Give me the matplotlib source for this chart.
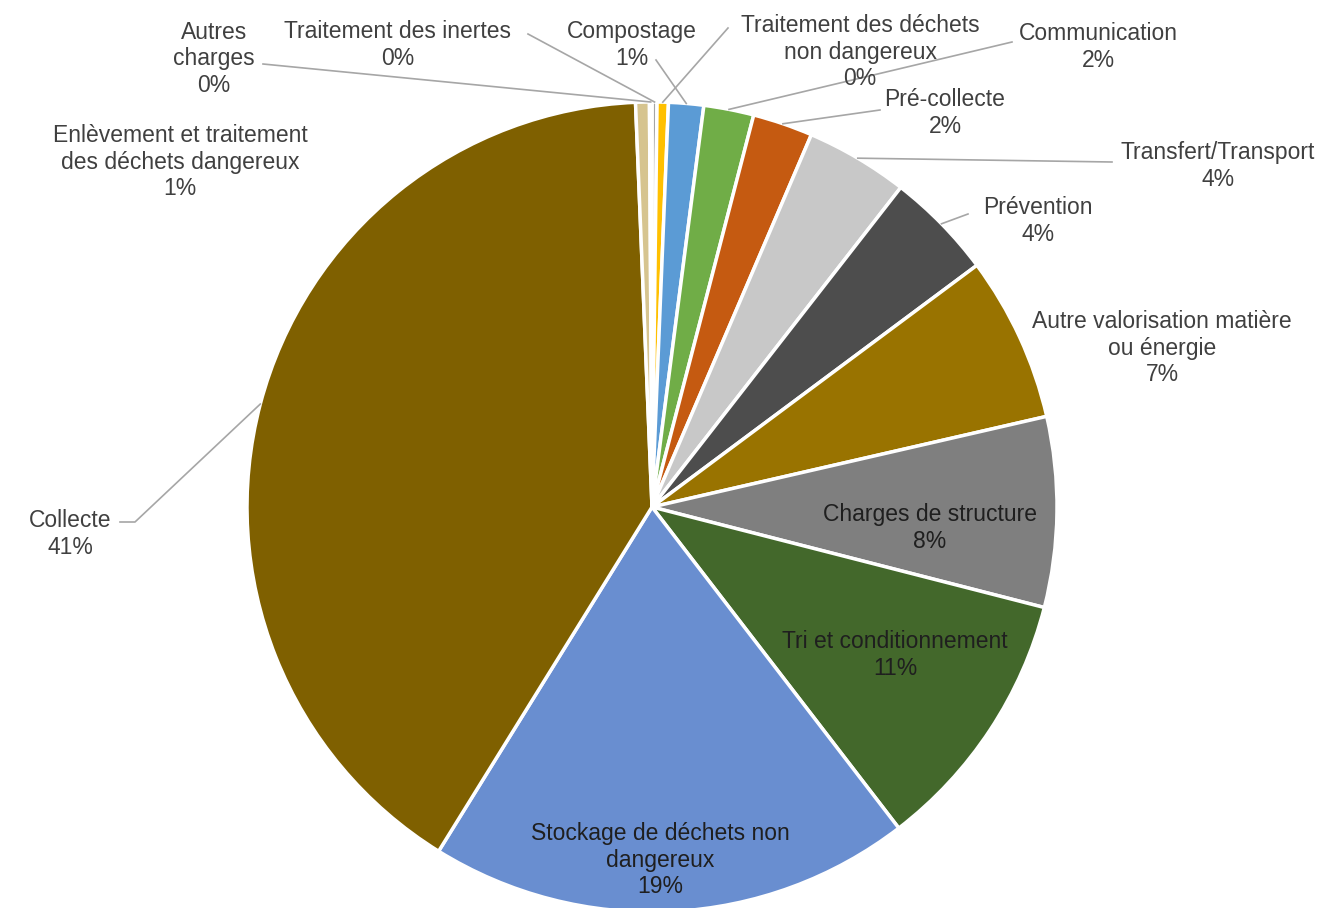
import matplotlib
matplotlib.use("Agg")
import matplotlib.pyplot as plt
import numpy as np

plt.rcParams['font.family'] = ['Liberation Sans', 'DejaVu Sans']

# données (sens horaire à partir du haut)
categories = [
    "Traitement des inertes",
    "Traitement des déchets\nnon dangereux",
    "Compostage",
    "Communication",
    "Pré-collecte",
    "Transfert/Transport",
    "Prévention",
    "Autre valorisation matière\nou énergie",
    "Charges de structure",
    "Tri et conditionnement",
    "Stockage de déchets non\ndangereux",
    "Collecte",
    "Enlèvement et traitement\ndes déchets dangereux",
    "Autres\ncharges",
]
values = [0.2, 0.45, 1.4, 2.0, 2.4, 4.1, 4.3, 6.6, 7.6, 10.6, 19.3, 40.6, 0.55, 0.1]
colors = ["#A5A5A5", "#FFC000", "#5B9BD5", "#70AD47", "#C55A11", "#C8C8C8",
          "#4D4D4D", "#997300", "#7F7F7F", "#43682B", "#698ED0", "#7F6000",
          "#D6C48F", "#E3E3E3"]

W, H = 1326, 908
fig = plt.figure(figsize=(W / 100, H / 100), dpi=100)
ax = fig.add_axes([0, 0, 1, 1])

cx, cy, r = 652, H - 507, 405
wedges, _ = ax.pie(values, colors=colors, startangle=90, counterclock=False,
                   center=(cx, cy), radius=r, frame=True,
                   wedgeprops=dict(edgecolor='white', linewidth=2.5))
ax.set_xlim(0, W)
ax.set_ylim(0, H)
ax.set_aspect('equal')
ax.axis('off')

total = sum(values)
pcts = [int(v / total * 100 + 0.5) for v in values]

# position des étiquettes (pixels, depuis le haut) et départ du trait de rappel
label_pos = {
    "Traitement des inertes": ((398, 45), (528, 34)),
    "Traitement des déchets\nnon dangereux": ((860, 52), (728, 28)),
    "Compostage": ((632, 45), (656, 60)),
    "Communication": ((1098, 47), (1012, 42)),
    "Pré-collecte": ((945, 113), (880, 110)),
    "Transfert/Transport": ((1218, 166), (1112, 162)),
    "Prévention": ((1038, 221), (968, 214)),
    "Autre valorisation matière\nou énergie": ((1162, 348), None),
    "Charges de structure": ((930, 528), None),
    "Tri et conditionnement": ((895, 655), None),
    "Stockage de déchets non\ndangereux": ((660, 860), None),
    "Collecte": ((70, 534), (120, 522)),
    "Enlèvement et traitement\ndes déchets dangereux": ((180, 162), None),
    "Autres\ncharges": ((214, 59), (263, 64)),
}
inside = ["Charges de structure", "Tri et conditionnement",
          "Stockage de déchets non\ndangereux"]

for w, name, p in zip(wedges, categories, pcts):
    (lx, ly), start = label_pos[name]
    col = "#1f1f1f" if name in inside else "#404040"
    ax.text(lx, H - ly, f"{name}\n{p}%", ha='center', va='center',
            fontsize=16.5, color=col, linespacing=1.2)
    if start is not None:
        mid = np.deg2rad((w.theta1 + w.theta2) / 2)
        ex, ey = cx + r * np.cos(mid), cy + r * np.sin(mid)
        sx, sy = start[0], H - start[1]
        if name == "Collecte":
            ax.plot([sx, sx + 15, ex], [sy, sy, ey], color="#a6a6a6", lw=1.2)
        else:
            ax.plot([sx, ex], [sy, ey], color="#a6a6a6", lw=1.2)

fig.savefig("out.png", dpi=100)
